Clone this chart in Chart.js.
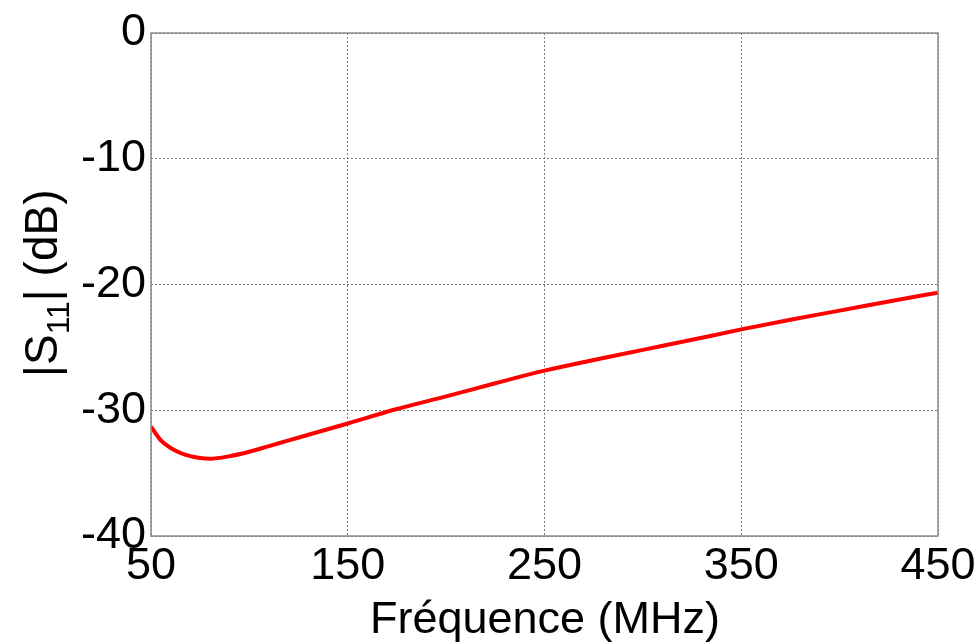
<!DOCTYPE html>
<html>
<head>
<meta charset="utf-8">
<script src="https://cdn.jsdelivr.net/npm/chart.js@4"></script>
<style>
  html, body { margin: 0; padding: 0; background: #fff; }
  #wrap { width: 977px; height: 644px; }
</style>
</head>
<body>
<div id="wrap"><canvas id="s11Chart" width="977" height="644"></canvas></div>
<script>
// Data (frequency in MHz, |S11| in dB)
const freqMHz = [50, 55, 60, 65, 70, 75, 80, 90, 100, 110, 120, 130, 150, 175, 200, 225, 250, 275, 300, 325, 350, 375, 400, 425, 450];
const s11dB = [-31.3, -32.4, -33.0, -33.4, -33.65, -33.8, -33.85, -33.65, -33.3, -32.85, -32.4, -31.95, -31.05, -29.9, -28.9, -27.85, -26.85, -26.0, -25.2, -24.4, -23.57, -22.8, -22.08, -21.35, -20.65];
const xTicks = [50, 150, 250, 350, 450];
const yTicks = [-40, -30, -20, -10, 0];

const FONT = "'Liberation Sans', Arial, sans-serif";
const gridColor = '#7a7a7a';
const boxColor = '#8c8c8c';

// Box around plot + axis titles (y title needs a subscript)
const framePlugin = {
    id: 'frame',
    afterDatasetsDraw(chart) {
        const { ctx, chartArea: a } = chart;
        ctx.save();
        ctx.strokeStyle = boxColor;
        ctx.lineWidth = 1.5;
        ctx.setLineDash([]);
        ctx.strokeRect(a.left, a.top, a.right - a.left, a.bottom - a.top);
        ctx.restore();
    },
    afterDraw(chart) {
        const ctx = chart.ctx;
        ctx.save();
        ctx.fillStyle = '#000';
        ctx.textBaseline = 'alphabetic';

        // x title
        ctx.font = '45px ' + FONT;
        ctx.textAlign = 'center';
        ctx.fillText('Fréquence (MHz)', 545, 633);

        // y title, rotated, with subscript 11
        ctx.translate(57, 377);
        ctx.rotate(-Math.PI / 2);
        ctx.textAlign = 'left';
        let x = 0;
        ctx.font = '46px ' + FONT;
        ctx.fillText('|S', x, 0);
        x += ctx.measureText('|S').width;
        ctx.font = '32px ' + FONT;
        ctx.fillText('11', x, 12);
        x += ctx.measureText('11').width;
        ctx.font = '46px ' + FONT;
        ctx.fillText('| (dB)', x, 0);
        ctx.restore();
    }
};

const ctx = document.getElementById('s11Chart').getContext('2d');
new Chart(ctx, {
    type: 'line',
    data: {
        datasets: [{
            label: '|S11|',
            data: freqMHz.map((f, i) => ({ x: f, y: s11dB[i] })),
            borderColor: '#ff0000',
            borderWidth: 4,
            pointRadius: 0,
            cubicInterpolationMode: 'monotone',
            fill: false
        }]
    },
    options: {
        responsive: false,
        animation: false,
        layout: { padding: { top: 33, right: 39, left: 0, bottom: 0 } },
        plugins: {
            legend: { display: false },
            tooltip: { enabled: false }
        },
        scales: {
            x: {
                type: 'linear',
                min: 50,
                max: 450,
                afterFit(scale) {
                    scale.height = 108;
                    scale.paddingLeft = 0;
                    scale.paddingRight = 0;
                },
                afterBuildTicks(scale) { scale.ticks = xTicks.map(v => ({ value: v })); },
                grid: { color: gridColor, lineWidth: 1, drawTicks: false },
                border: { display: false, dash: [2, 2] },
                ticks: {
                    color: '#000',
                    padding: 4,
                    maxRotation: 0,
                    autoSkip: false,
                    font: { family: FONT, size: 45 }
                }
            },
            y: {
                min: -40,
                max: 0,
                afterFit(scale) {
                    scale.width = 151;
                    scale.paddingTop = 0;
                    scale.paddingBottom = 0;
                },
                afterBuildTicks(scale) { scale.ticks = yTicks.map(v => ({ value: v })); },
                grid: { color: gridColor, lineWidth: 1, drawTicks: false },
                border: { display: false, dash: [2, 2] },
                ticks: {
                    color: '#000',
                    padding: 5,
                    autoSkip: false,
                    font: { family: FONT, size: 45 }
                }
            }
        }
    },
    plugins: [framePlugin]
});
</script>
</body>
</html>
